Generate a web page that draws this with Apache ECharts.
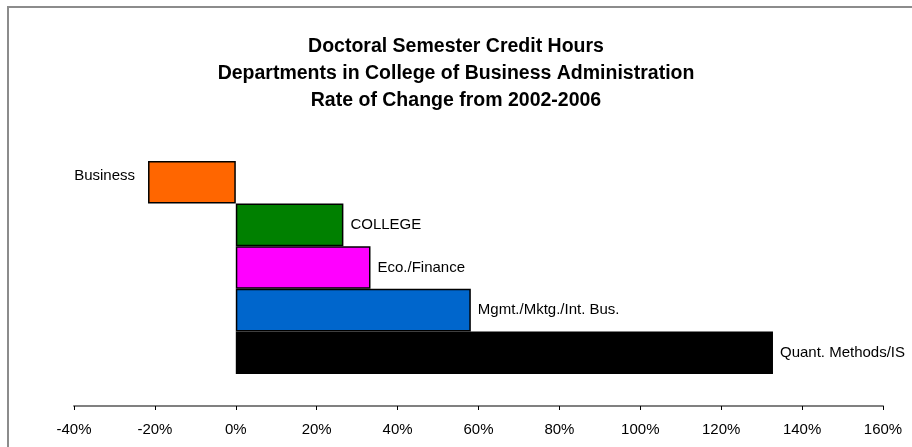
<!DOCTYPE html>
<html>
<head>
<meta charset="utf-8">
<script src="https://cdn.jsdelivr.net/npm/echarts@6/dist/echarts.min.js"></script>
<style>
  html, body { margin: 0; padding: 0; background: #fff; }
  #chart { width: 912px; height: 447px; }
</style>
</head>
<body>
<div id="chart"></div>
<script>
// departments, top to bottom
var departments = ['Business', 'COLLEGE', 'Eco./Finance', 'Mgmt./Mktg./Int. Bus.', 'Quant. Methods/IS'];
// rate of change 2002-2006, in percent
var rateOfChange = [-21.7, 26.6, 33.3, 58.1, 132.8];
var barColors = ['#FF6600', '#008000', '#FF00FF', '#0066CC', '#000000'];
var xTicks = [-40, -20, 0, 20, 40, 60, 80, 100, 120, 140, 160];

var font = 'Liberation Sans, Arial, sans-serif';

var barData = rateOfChange.map(function (v, i) {
    var neg = v < 0;
    return {
        value: v,
        itemStyle: { color: barColors[i] },
        label: {
            position: neg ? 'left' : 'right',
            distance: neg ? 13 : 7,
            offset: neg ? [0, -6] : [0, 0]
        }
    };
});

var option = {
    animation: false,
    backgroundColor: '#fff',
    title: {
        text: 'Doctoral Semester Credit Hours\nDepartments in College of Business Administration\nRate of Change from 2002-2006',
        left: 'center',
        top: 28,
        textStyle: {
            fontFamily: font,
            fontSize: 19.5,
            fontWeight: 'bold',
            color: '#000',
            lineHeight: 27
        }
    },
    graphic: [{
        type: 'rect',
        shape: { x: 8, y: 7, width: 960, height: 500 },
        style: { fill: 'none', stroke: '#8c8c8c', lineWidth: 2 },
        silent: true
    }],
    grid: {
        left: 74,
        right: 29,
        top: 161,
        bottom: 73
    },
    xAxis: {
        type: 'value',
        min: xTicks[0],
        max: xTicks[xTicks.length - 1],
        interval: 20,
        position: 'bottom',
        offset: 32,
        splitLine: { show: false },
        axisLine: { show: true, lineStyle: { color: '#808080', width: 2 } },
        axisTick: { show: true, length: 4, lineStyle: { color: '#000', width: 1 } },
        axisLabel: {
            formatter: '{value}%',
            color: '#000',
            fontFamily: font,
            fontSize: 15,
            margin: 16
        }
    },
    yAxis: {
        type: 'category',
        data: departments,
        inverse: true,
        axisLine: { show: false },
        axisTick: { show: false },
        axisLabel: { show: false },
        splitLine: { show: false }
    },
    series: [{
        type: 'bar',
        data: barData,
        barWidth: '100%',
        barCategoryGap: 0,
        itemStyle: { borderColor: '#000', borderWidth: 1.5 },
        label: {
            show: true,
            formatter: function (p) { return p.name; },
            color: '#000',
            fontFamily: font,
            fontSize: 15
        }
    }]
};

var chart = echarts.init(document.getElementById('chart'));
chart.setOption(option);
</script>
</body>
</html>
